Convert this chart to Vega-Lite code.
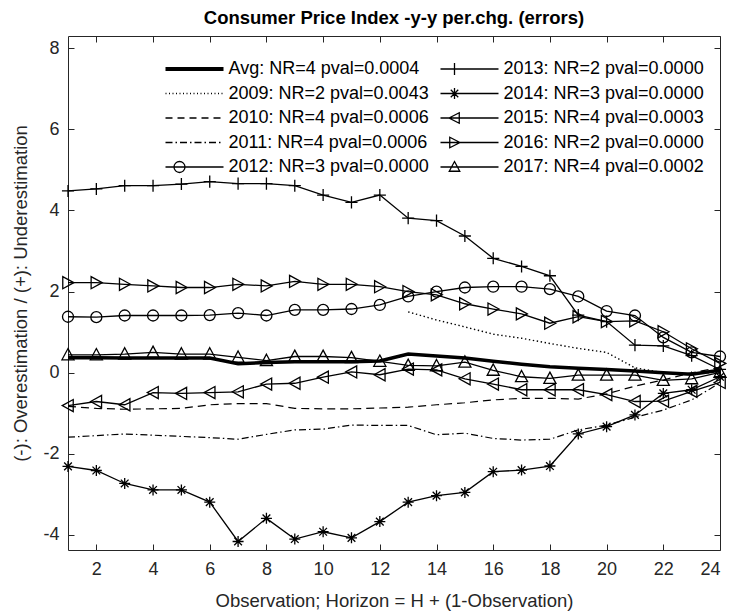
{
"$schema": "https://vega.github.io/schema/vega-lite/v6.json",
"width": 652, "height": 514,
"autosize": {"type": "none"},
"padding": {"left": 68, "top": 36, "right": 11, "bottom": 65},
"title": {"text": "Consumer Price Index -y-y per.chg. (errors)", "font": "Liberation Sans", "fontSize": 18.5, "fontWeight": "bold", "color": "black", "anchor": "middle", "offset": 8},
"config": {
  "view": {"stroke": "#262626", "strokeWidth": 1},
  "axis": {"grid": false, "domain": false, "labelFont": "Liberation Sans", "labelFontSize": 18, "labelColor": "#262626", "tickColor": "#262626", "tickSize": -6, "titleFont": "Liberation Sans", "titleFontSize": 18.5, "titleFontWeight": "normal", "titleColor": "#262626"},
  "legend": {"orient": "none", "legendX": 94, "legendY": 24, "columns": 2, "columnPadding": 8, "rowPadding": 6.5, "padding": 0, "labelFont": "Liberation Sans", "labelFontSize": 18, "labelColor": "black", "labelLimit": 0, "symbolSize": 100, "symbolOffset": 23.5, "labelOffset": 25, "symbolStrokeColor": "black", "symbolFillColor": "transparent", "symbolStrokeWidth": 1.3}
},
"data": {"values": [
{"s":"Avg","x":1,"y":0.37},{"s":"Avg","x":2,"y":0.37},{"s":"Avg","x":3,"y":0.36},{"s":"Avg","x":4,"y":0.36},{"s":"Avg","x":5,"y":0.36},{"s":"Avg","x":6,"y":0.36},{"s":"Avg","x":7,"y":0.22},{"s":"Avg","x":8,"y":0.25},{"s":"Avg","x":9,"y":0.27},{"s":"Avg","x":10,"y":0.27},{"s":"Avg","x":11,"y":0.27},{"s":"Avg","x":12,"y":0.29},{"s":"Avg","x":13,"y":0.46},{"s":"Avg","x":14,"y":0.41},{"s":"Avg","x":15,"y":0.36},{"s":"Avg","x":16,"y":0.28},{"s":"Avg","x":17,"y":0.21},{"s":"Avg","x":18,"y":0.15},{"s":"Avg","x":19,"y":0.11},{"s":"Avg","x":20,"y":0.08},{"s":"Avg","x":21,"y":0.04},{"s":"Avg","x":22,"y":0.0},{"s":"Avg","x":23,"y":-0.04},{"s":"Avg","x":24,"y":0.06},
{"s":"2009","x":13,"y":1.5},{"s":"2009","x":14,"y":1.3},{"s":"2009","x":15,"y":1.13},{"s":"2009","x":16,"y":0.95},{"s":"2009","x":17,"y":0.85},{"s":"2009","x":18,"y":0.72},{"s":"2009","x":19,"y":0.6},{"s":"2009","x":20,"y":0.5},{"s":"2009","x":21,"y":0.12},{"s":"2009","x":22,"y":0.0},{"s":"2009","x":23,"y":-0.03},{"s":"2009","x":24,"y":0.02},
{"s":"2010","x":1,"y":-0.83},{"s":"2010","x":2,"y":-0.88},{"s":"2010","x":3,"y":-0.9},{"s":"2010","x":4,"y":-0.89},{"s":"2010","x":5,"y":-0.88},{"s":"2010","x":6,"y":-0.79},{"s":"2010","x":7,"y":-0.76},{"s":"2010","x":8,"y":-0.76},{"s":"2010","x":9,"y":-0.88},{"s":"2010","x":10,"y":-0.89},{"s":"2010","x":11,"y":-0.89},{"s":"2010","x":12,"y":-0.87},{"s":"2010","x":13,"y":-0.85},{"s":"2010","x":14,"y":-0.79},{"s":"2010","x":15,"y":-0.74},{"s":"2010","x":16,"y":-0.67},{"s":"2010","x":17,"y":-0.63},{"s":"2010","x":18,"y":-0.63},{"s":"2010","x":19,"y":-0.65},{"s":"2010","x":20,"y":-0.52},{"s":"2010","x":21,"y":-0.33},{"s":"2010","x":22,"y":-0.18},{"s":"2010","x":23,"y":0.0},{"s":"2010","x":24,"y":0.13},
{"s":"2011","x":1,"y":-1.59},{"s":"2011","x":2,"y":-1.55},{"s":"2011","x":3,"y":-1.51},{"s":"2011","x":4,"y":-1.54},{"s":"2011","x":5,"y":-1.57},{"s":"2011","x":6,"y":-1.6},{"s":"2011","x":7,"y":-1.64},{"s":"2011","x":8,"y":-1.52},{"s":"2011","x":9,"y":-1.41},{"s":"2011","x":10,"y":-1.39},{"s":"2011","x":11,"y":-1.29},{"s":"2011","x":12,"y":-1.3},{"s":"2011","x":13,"y":-1.3},{"s":"2011","x":14,"y":-1.53},{"s":"2011","x":15,"y":-1.49},{"s":"2011","x":16,"y":-1.62},{"s":"2011","x":17,"y":-1.66},{"s":"2011","x":18,"y":-1.64},{"s":"2011","x":19,"y":-1.41},{"s":"2011","x":20,"y":-1.29},{"s":"2011","x":21,"y":-1.1},{"s":"2011","x":22,"y":-0.92},{"s":"2011","x":23,"y":-0.67},{"s":"2011","x":24,"y":-0.25},
{"s":"2012","x":1,"y":1.38},{"s":"2012","x":2,"y":1.37},{"s":"2012","x":3,"y":1.41},{"s":"2012","x":4,"y":1.41},{"s":"2012","x":5,"y":1.41},{"s":"2012","x":6,"y":1.42},{"s":"2012","x":7,"y":1.47},{"s":"2012","x":8,"y":1.41},{"s":"2012","x":9,"y":1.55},{"s":"2012","x":10,"y":1.55},{"s":"2012","x":11,"y":1.57},{"s":"2012","x":12,"y":1.67},{"s":"2012","x":13,"y":1.88},{"s":"2012","x":14,"y":2.0},{"s":"2012","x":15,"y":2.1},{"s":"2012","x":16,"y":2.12},{"s":"2012","x":17,"y":2.12},{"s":"2012","x":18,"y":2.06},{"s":"2012","x":19,"y":1.88},{"s":"2012","x":20,"y":1.52},{"s":"2012","x":21,"y":1.41},{"s":"2012","x":22,"y":0.87},{"s":"2012","x":23,"y":0.5},{"s":"2012","x":24,"y":0.4},
{"s":"2013","x":1,"y":4.48},{"s":"2013","x":2,"y":4.53},{"s":"2013","x":3,"y":4.61},{"s":"2013","x":4,"y":4.61},{"s":"2013","x":5,"y":4.65},{"s":"2013","x":6,"y":4.71},{"s":"2013","x":7,"y":4.66},{"s":"2013","x":8,"y":4.66},{"s":"2013","x":9,"y":4.61},{"s":"2013","x":10,"y":4.38},{"s":"2013","x":11,"y":4.2},{"s":"2013","x":12,"y":4.38},{"s":"2013","x":13,"y":3.81},{"s":"2013","x":14,"y":3.75},{"s":"2013","x":15,"y":3.37},{"s":"2013","x":16,"y":2.82},{"s":"2013","x":17,"y":2.62},{"s":"2013","x":18,"y":2.39},{"s":"2013","x":19,"y":1.42},{"s":"2013","x":20,"y":1.26},{"s":"2013","x":21,"y":0.68},{"s":"2013","x":22,"y":0.66},{"s":"2013","x":23,"y":0.42},{"s":"2013","x":24,"y":0.08},
{"s":"2014","x":1,"y":-2.31},{"s":"2014","x":2,"y":-2.41},{"s":"2014","x":3,"y":-2.73},{"s":"2014","x":4,"y":-2.89},{"s":"2014","x":5,"y":-2.89},{"s":"2014","x":6,"y":-3.19},{"s":"2014","x":7,"y":-4.16},{"s":"2014","x":8,"y":-3.59},{"s":"2014","x":9,"y":-4.1},{"s":"2014","x":10,"y":-3.92},{"s":"2014","x":11,"y":-4.07},{"s":"2014","x":12,"y":-3.67},{"s":"2014","x":13,"y":-3.19},{"s":"2014","x":14,"y":-3.03},{"s":"2014","x":15,"y":-2.95},{"s":"2014","x":16,"y":-2.44},{"s":"2014","x":17,"y":-2.4},{"s":"2014","x":18,"y":-2.3},{"s":"2014","x":19,"y":-1.51},{"s":"2014","x":20,"y":-1.33},{"s":"2014","x":21,"y":-1.04},{"s":"2014","x":22,"y":-0.51},{"s":"2014","x":23,"y":-0.42},{"s":"2014","x":24,"y":-0.1},
{"s":"2015","x":1,"y":-0.81},{"s":"2015","x":2,"y":-0.71},{"s":"2015","x":3,"y":-0.79},{"s":"2015","x":4,"y":-0.49},{"s":"2015","x":5,"y":-0.51},{"s":"2015","x":6,"y":-0.49},{"s":"2015","x":7,"y":-0.47},{"s":"2015","x":8,"y":-0.28},{"s":"2015","x":9,"y":-0.26},{"s":"2015","x":10,"y":-0.11},{"s":"2015","x":11,"y":0.02},{"s":"2015","x":12,"y":-0.05},{"s":"2015","x":13,"y":0.09},{"s":"2015","x":14,"y":0.07},{"s":"2015","x":15,"y":-0.15},{"s":"2015","x":16,"y":-0.28},{"s":"2015","x":17,"y":-0.42},{"s":"2015","x":18,"y":-0.42},{"s":"2015","x":19,"y":-0.42},{"s":"2015","x":20,"y":-0.54},{"s":"2015","x":21,"y":-0.71},{"s":"2015","x":22,"y":-0.7},{"s":"2015","x":23,"y":-0.46},{"s":"2015","x":24,"y":-0.24},
{"s":"2016","x":1,"y":2.22},{"s":"2016","x":2,"y":2.22},{"s":"2016","x":3,"y":2.18},{"s":"2016","x":4,"y":2.14},{"s":"2016","x":5,"y":2.1},{"s":"2016","x":6,"y":2.1},{"s":"2016","x":7,"y":2.18},{"s":"2016","x":8,"y":2.14},{"s":"2016","x":9,"y":2.25},{"s":"2016","x":10,"y":2.18},{"s":"2016","x":11,"y":2.18},{"s":"2016","x":12,"y":2.12},{"s":"2016","x":13,"y":2.0},{"s":"2016","x":14,"y":1.92},{"s":"2016","x":15,"y":1.7},{"s":"2016","x":16,"y":1.57},{"s":"2016","x":17,"y":1.45},{"s":"2016","x":18,"y":1.22},{"s":"2016","x":19,"y":1.38},{"s":"2016","x":20,"y":1.26},{"s":"2016","x":21,"y":1.28},{"s":"2016","x":22,"y":1.01},{"s":"2016","x":23,"y":0.59},{"s":"2016","x":24,"y":0.23},
{"s":"2017","x":1,"y":0.44},{"s":"2017","x":2,"y":0.44},{"s":"2017","x":3,"y":0.46},{"s":"2017","x":4,"y":0.5},{"s":"2017","x":5,"y":0.46},{"s":"2017","x":6,"y":0.46},{"s":"2017","x":7,"y":0.38},{"s":"2017","x":8,"y":0.3},{"s":"2017","x":9,"y":0.4},{"s":"2017","x":10,"y":0.4},{"s":"2017","x":11,"y":0.37},{"s":"2017","x":12,"y":0.28},{"s":"2017","x":13,"y":0.18},{"s":"2017","x":14,"y":0.17},{"s":"2017","x":15,"y":0.26},{"s":"2017","x":16,"y":0.06},{"s":"2017","x":17,"y":-0.1},{"s":"2017","x":18,"y":-0.14},{"s":"2017","x":19,"y":-0.06},{"s":"2017","x":20,"y":-0.06},{"s":"2017","x":21,"y":-0.06},{"s":"2017","x":22,"y":-0.19},{"s":"2017","x":23,"y":-0.15},{"s":"2017","x":24,"y":0.01}
]},
"encoding": {
  "x": {"field": "x", "type": "quantitative", "scale": {"domain": [1, 24], "nice": false, "zero": false}, "axis": null},
  "y": {"field": "y", "type": "quantitative", "scale": {"domain": [-4.37, 8.3], "nice": false, "zero": false}, "axis": null}
},
"layer": [
  {
    "transform": [{"filter": {"field": "s", "oneOf": ["2012","2013","2014","2015","2016","2017"]}}],
    "mark": {"type": "line", "color": "black", "strokeWidth": 1.3},
    "encoding": {
      "detail": {"field": "s", "type": "nominal"},
      "x": {"field": "x", "type": "quantitative", "scale": {"domain": [1, 24], "nice": false, "zero": false},
            "axis": {"orient": "bottom", "values": [2,4,6,8,10,12,14,16,18,20,22,24], "title": "Observation; Horizon = H + (1-Observation)", "labelPadding": 16, "titleY": 50, "titleBaseline": "middle"}},
      "y": {"field": "y", "type": "quantitative", "scale": {"domain": [-4.37, 8.3], "nice": false, "zero": false},
            "axis": {"orient": "left", "values": [-4,-2,0,2,4,6,8], "labelExpr": "'' + datum.value", "title": "(-): Overestimation / (+): Underestimation", "labelPadding": 15, "titleX": -48, "titleY": 257, "titleAngle": -90, "titleBaseline": "middle"}}
    }
  },
  {
    "transform": [{"filter": {"field": "s", "equal": "2009"}}],
    "mark": {"type": "line", "color": "black", "strokeWidth": 1.4, "strokeDash": [1.4, 2.6]},
    "encoding": {}
  },
  {
    "transform": [{"filter": {"field": "s", "equal": "2010"}}],
    "mark": {"type": "line", "color": "black", "strokeWidth": 1.2, "strokeDash": [8, 5]},
    "encoding": {}
  },
  {
    "transform": [{"filter": {"field": "s", "equal": "2011"}}],
    "mark": {"type": "line", "color": "black", "strokeWidth": 1.2, "strokeDash": [7, 3, 1.5, 3]},
    "encoding": {}
  },
  {
    "transform": [{"filter": {"field": "s", "equal": "Avg"}}],
    "mark": {"type": "line", "color": "black", "strokeWidth": 3.5},
    "encoding": {}
  },
  {
    "transform": [{"filter": {"field": "s", "equal": "2012"}}],
    "mark": {"type": "point", "filled": false, "color": "black", "strokeWidth": 1.3, "size": 121, "opacity": 1, "shape": "M1,0A1,1,0,1,1,-1,0A1,1,0,1,1,1,0Z"},
    "encoding": {
      "x": {"field": "x", "type": "quantitative", "scale": {"domain": [1, 24], "nice": false, "zero": false},
            "axis": {"orient": "top", "values": [2,4,6,8,10,12,14,16,18,20,22,24], "labels": false, "title": null}},
      "y": {"field": "y", "type": "quantitative", "scale": {"domain": [-4.37, 8.3], "nice": false, "zero": false},
            "axis": {"orient": "right", "values": [-4,-2,0,2,4,6,8], "labels": false, "title": null}}
    }
  },
  {
    "transform": [{"filter": {"field": "s", "equal": "2013"}}],
    "mark": {"type": "point", "filled": false, "color": "black", "strokeWidth": 1.3, "size": 121, "opacity": 1, "shape": "M-1.1,0H1.1M0,-1.1V1.1"},
    "encoding": {}
  },
  {
    "transform": [{"filter": {"field": "s", "equal": "2014"}}],
    "mark": {"type": "point", "filled": false, "color": "black", "strokeWidth": 1.3, "size": 121, "opacity": 1, "shape": "M-1,0H1M0,-1V1M-0.7,-0.7L0.7,0.7M-0.7,0.7L0.7,-0.7"},
    "encoding": {}
  },
  {
    "transform": [{"filter": {"field": "s", "equal": "2015"}}],
    "mark": {"type": "point", "filled": false, "color": "black", "strokeWidth": 1.3, "size": 121, "opacity": 1, "shape": "M-1.05,0L0.95,-1.1L0.95,1.1Z"},
    "encoding": {}
  },
  {
    "transform": [{"filter": {"field": "s", "equal": "2016"}}],
    "mark": {"type": "point", "filled": false, "color": "black", "strokeWidth": 1.3, "size": 121, "opacity": 1, "shape": "M1.05,0L-0.95,-1.1L-0.95,1.1Z"},
    "encoding": {}
  },
  {
    "transform": [{"filter": {"field": "s", "equal": "2017"}}],
    "mark": {"type": "point", "filled": false, "color": "black", "strokeWidth": 1.3, "size": 121, "opacity": 1, "shape": "M0,-1.15L1.1,0.9L-1.1,0.9Z"},
    "encoding": {}
  },
  {
    "transform": [{"filter": "false"}],
    "mark": {"type": "point", "filled": false, "color": "black", "strokeWidth": 1.3, "opacity": 1},
    "encoding": {
      "shape": {"field": "s", "type": "nominal",
        "scale": {"domain": ["Avg","2009","2010","2011","2012","2013","2014","2015","2016","2017"],
                  "range": [
                    "M-5.8,-0.25H5.8M-5.8,0H5.8M-5.8,0.25H5.8",
                    "M-5.8,0H-5.6M-5.1,0H-4.9M-4.4,0H-4.2M-3.7,0H-3.5M-3,0H-2.8M-2.3,0H-2.1M-1.6,0H-1.4M-0.9,0H-0.7M-0.2,0H0M0.5,0H0.7M1.2,0H1.4M1.9,0H2.1M2.6,0H2.8M3.3,0H3.5M4,0H4.2M4.7,0H4.9M5.4,0H5.6",
                    "M-5.8,0H-4.4M-3.4,0H-2M-1,0H0.4M1.4,0H2.8M3.8,0H5.2",
                    "M-5.8,0H-4.4M-3.8,0H-3.5M-2.9,0H-1.5M-0.9,0H-0.6M0,0H1.4M2,0H2.3M2.9,0H4.3M4.9,0H5.2",
                    "M-5.8,0H5.8M-1.9,0A1.1,1.1,0,1,1,-4.1,0A1.1,1.1,0,1,1,-1.9,0Z",
                    "M-5.8,0H5.8M-4.2,0H-1.8M-3,-1.2V1.2",
                    "M-5.8,0H5.8M-4.1,0H-1.9M-3,-1.1V1.1M-3.75,-0.75L-2.25,0.75M-3.75,0.75L-2.25,-0.75",
                    "M-5.8,0H5.8M-4.1,0L-2.05,-1.05L-2.05,1.05Z",
                    "M-5.8,0H5.8M-1.9,0L-3.95,-1.05L-3.95,1.05Z",
                    "M-5.8,0H5.8M-3,-1.1L-1.95,0.85L-4.05,0.85Z"
                  ]},
        "legend": {"title": null,
          "labelExpr": "datum.value + ': ' + ({'Avg':'NR=4 pval=0.0004','2009':'NR=2 pval=0.0043','2010':'NR=4 pval=0.0006','2011':'NR=4 pval=0.0006','2012':'NR=3 pval=0.0000','2013':'NR=2 pval=0.0000','2014':'NR=3 pval=0.0000','2015':'NR=4 pval=0.0003','2016':'NR=2 pval=0.0000','2017':'NR=4 pval=0.0002'})[datum.value]"}
      }
    }
  }
]
}
